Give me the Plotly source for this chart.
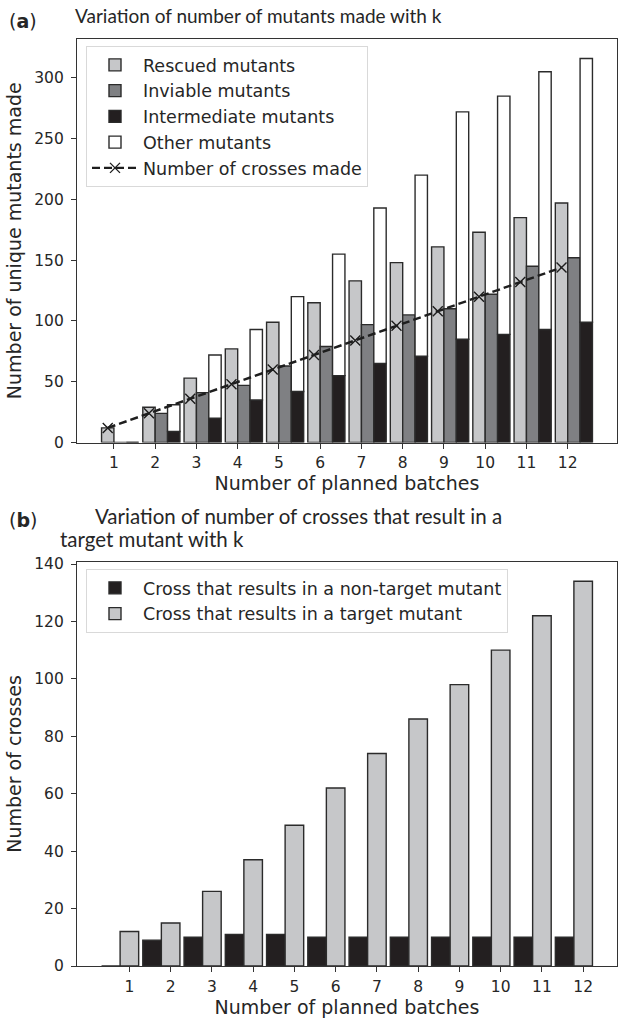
import plotly.graph_objects as go

# ---------------- data ----------------
batches = [1, 2, 3, 4, 5, 6, 7, 8, 9, 10, 11, 12]
tick_labels = [str(b) for b in batches]

rescued = [12, 29, 53, 77, 99, 115, 133, 148, 161, 173, 185, 197]
inviable = [0, 24, 41, 47, 63, 79, 97, 105, 110, 122, 145, 152]
intermediate = [0, 9, 20, 35, 42, 55, 65, 71, 85, 89, 93, 99]
other = [0, 22, 52, 58, 78, 100, 128, 149, 187, 196, 212, 217]
crosses_made = [12, 24, 36, 48, 60, 72, 84, 96, 108, 120, 132, 144]

non_target = [0, 9, 10, 11, 11, 10, 10, 10, 10, 10, 10, 10]
target = [12, 15, 26, 37, 49, 62, 74, 86, 98, 110, 122, 134]

yticks_a = [0, 50, 100, 150, 200, 250, 300]
yticks_b = [0, 20, 40, 60, 80, 100, 120, 140]

# ---------------- style ----------------
W, H = 619, 1019
ML, MR, MT, MB = 77, 2, 39, 53
PW, PH = W - ML - MR, H - MT - MB


def px_x(x):
    return (x - ML) / PW


def px_y(y):
    return (H - MB - y) / PH


LIGHT = "#c6c7c9"
MID = "#7f8083"
DARK = "#231f20"
EDGE = "#2b2b2b"
TXT = "#262626"
SPINE = "#333333"
FONT = "DejaVu Sans"
TFONT = "Lato"

fig = go.Figure()

bw = 0.3
edge = dict(color=EDGE, width=1.4)

fig.add_trace(go.Bar(x=batches, y=rescued, name="Rescued mutants", offset=-bw, width=bw,
                     marker=dict(color=LIGHT, line=edge),
                     xaxis="x", yaxis="y", legend="legend"))
fig.add_trace(go.Bar(x=batches, y=inviable, name="Inviable mutants", offset=0, width=bw,
                     marker=dict(color=MID, line=edge),
                     xaxis="x", yaxis="y", legend="legend"))
fig.add_trace(go.Bar(x=batches, y=intermediate, name="Intermediate mutants", offset=bw, width=bw,
                     marker=dict(color=DARK, line=edge),
                     xaxis="x", yaxis="y", legend="legend"))
fig.add_trace(go.Bar(x=batches, y=other, base=intermediate, name="Other mutants", offset=bw, width=bw,
                     marker=dict(color="white", line=edge),
                     xaxis="x", yaxis="y", legend="legend"))
fig.add_trace(go.Scatter(x=[b - bw / 2 for b in batches], y=crosses_made, name="Number of crosses made",
                         mode="lines+markers",
                         line=dict(color="#1e1e1e", width=2.4, dash="8px,4px"),
                         marker=dict(symbol="x-thin-open", size=10, color="#1e1e1e",
                                     line=dict(color="#1e1e1e", width=1.4)),
                         xaxis="x", yaxis="y", legend="legend"))

bw2 = 0.45
fig.add_trace(go.Bar(x=batches, y=non_target, name="Cross that results in a non-target mutant",
                     offset=-1.5 * bw2, width=bw2, marker=dict(color=DARK, line=edge),
                     xaxis="x2", yaxis="y2", legend="legend2"))
fig.add_trace(go.Bar(x=batches, y=target, name="Cross that results in a target mutant",
                     offset=-0.5 * bw2, width=bw2, marker=dict(color=LIGHT, line=edge),
                     xaxis="x2", yaxis="y2", legend="legend2"))

axis_common = dict(showline=True, mirror=True, linecolor=SPINE, linewidth=1.2,
                   ticks="outside", ticklen=5, tickwidth=1.1, tickcolor=SPINE,
                   showgrid=False, zeroline=False,
                   tickfont=dict(family=FONT, size=15.5, color=TXT))
xfont = dict(family=FONT, size=19, color=TXT)

top_dom = [px_y(442.5), 1.0]
bot_dom = [0.0, px_y(562.0)]

fig.update_layout(
    width=W, height=H,
    margin=dict(l=ML, r=MR, t=MT, b=MB),
    paper_bgcolor="white", plot_bgcolor="white",
    barmode="overlay",
    showlegend=True,
    xaxis=dict(axis_common, domain=[0, 1], anchor="y", range=[0.105, 13.195],
               tickvals=batches, ticktext=tick_labels, ticklabelstandoff=1,
               title=dict(text="Number of planned batches", font=xfont, standoff=2)),
    yaxis=dict(axis_common, domain=top_dom, anchor="x", range=[0, 332],
               tickvals=yticks_a, ticklabelstandoff=4,
               title=dict(text="Number of unique mutants made", font=xfont, standoff=7)),
    xaxis2=dict(axis_common, domain=[0, 1], anchor="y2", range=[-0.27, 12.82],
                tickvals=batches, ticktext=tick_labels, ticklabelstandoff=1,
                title=dict(text="Number of planned batches", font=xfont, standoff=2)),
    yaxis2=dict(axis_common, domain=bot_dom, anchor="x2", range=[0, 140.7],
                tickvals=yticks_b, ticklabelstandoff=4,
                title=dict(text="Number of crosses", font=xfont, standoff=7)),
    legend=dict(x=px_x(86), y=px_y(46), xanchor="left", yanchor="top",
                bgcolor="white", bordercolor="#d9d9d9", borderwidth=1, itemwidth=46,
                font=dict(family=FONT, size=17.5, color=TXT)),
    legend2=dict(x=px_x(86), y=px_y(569), xanchor="left", yanchor="top",
                 bgcolor="white", bordercolor="#d9d9d9", borderwidth=1, itemwidth=46,
                 font=dict(family=FONT, size=17.5, color=TXT)),
)

annots = [
    dict(text="(<b>a</b>)", x=px_x(7), y=px_y(21), xanchor="left", yanchor="middle",
         font=dict(family=FONT, size=19, color=TXT)),
    dict(text="Variation of number of mutants made with k", x=px_x(73), y=px_y(15),
         xanchor="left", yanchor="middle", font=dict(family=TFONT, size=19, color=TXT)),
    dict(text="(<b>b</b>)", x=px_x(7), y=px_y(520), xanchor="left", yanchor="middle",
         font=dict(family=FONT, size=19, color=TXT)),
    dict(text="Variation of number of crosses that result in a", x=px_x(93), y=px_y(516),
         xanchor="left", yanchor="middle", font=dict(family=TFONT, size=20.5, color=TXT)),
    dict(text="target mutant with k", x=px_x(58), y=px_y(539),
         xanchor="left", yanchor="middle", font=dict(family=TFONT, size=20.5, color=TXT)),
]
for a in annots:
    a.update(xref="paper", yref="paper", showarrow=False)
fig.update_layout(annotations=annots)

fig.write_html("out.html", config={"displayModeBar": False},
               post_script="document.body.style.margin='0';")
